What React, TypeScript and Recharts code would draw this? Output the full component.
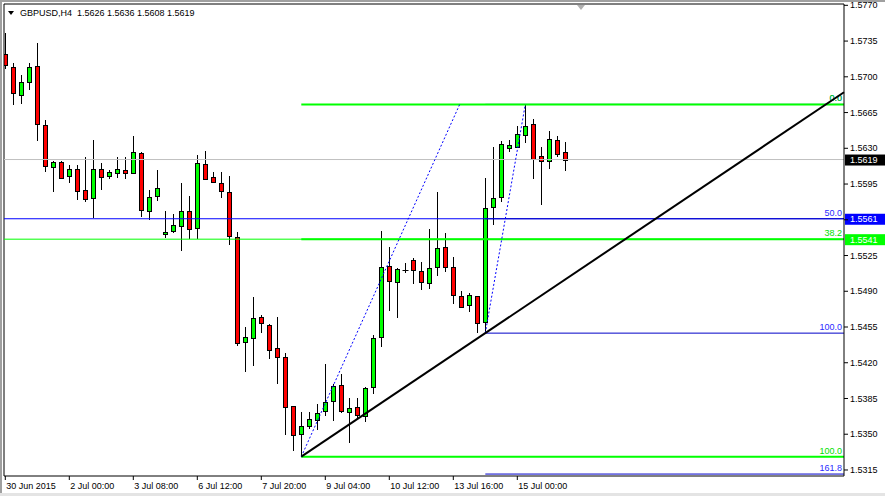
import {
  Bar,
  ComposedChart,
  ReferenceLine,
  XAxis,
  YAxis,
} from 'recharts'

// GBPUSD H4, one value per bar (bar 0 = leftmost visible bar)
const OPEN = [
  1.5722, 1.571, 1.5682, 1.5695, 1.5711, 1.5653, 1.5612, 1.5617, 1.5603, 1.561,
  1.5589, 1.5581, 1.561, 1.5603, 1.5606, 1.5609, 1.5606, 1.5625, 1.5569, 1.5583,
  1.5546, 1.5549, 1.5554, 1.5569, 1.5552, 1.5615, 1.5602, 1.5596, 1.5587, 1.5543,
  1.544, 1.5444, 1.5465, 1.5457, 1.5434, 1.5426, 1.5378, 1.535, 1.5358, 1.5364,
  1.5373, 1.5383, 1.5398, 1.5372, 1.5377, 1.5368, 1.5396, 1.5445, 1.5515, 1.5499,
  1.5511, 1.5521, 1.551, 1.5498, 1.5514, 1.5533, 1.5514, 1.5485, 1.5477, 1.5485,
  1.546, 1.5573, 1.5582, 1.563, 1.5631, 1.5643, 1.5654, 1.5622, 1.5618, 1.5638,
  1.5626,
]
const HIGH = [
  1.5743, 1.5714, 1.5702, 1.5714, 1.5733, 1.5658, 1.5618, 1.5618, 1.5614, 1.5614,
  1.5621, 1.5638, 1.5616, 1.5609, 1.5621, 1.5621, 1.5642, 1.5626, 1.5589, 1.5609,
  1.5569, 1.5566, 1.5596, 1.5583, 1.5623, 1.5627, 1.5607, 1.5607, 1.5603, 1.5548,
  1.5455, 1.5484, 1.5467, 1.5458, 1.5465, 1.543, 1.5378, 1.5372, 1.5372, 1.538,
  1.5419, 1.5399, 1.5409, 1.5385, 1.5385, 1.5396, 1.5447, 1.5549, 1.5533, 1.5513,
  1.5518, 1.5523, 1.5519, 1.5551, 1.5587, 1.5547, 1.5524, 1.549, 1.5488, 1.5485,
  1.5601, 1.5631, 1.5637, 1.5638, 1.5652, 1.5673, 1.5659, 1.5631, 1.5647, 1.5642,
  1.5636,
]
const LOW = [
  1.5708, 1.5672, 1.5673, 1.5687, 1.5637, 1.5607, 1.5587, 1.56, 1.5596, 1.5579,
  1.5577, 1.5562, 1.5589, 1.56, 1.5601, 1.56, 1.5605, 1.5563, 1.556, 1.5578,
  1.5542, 1.5547, 1.5529, 1.5541, 1.5541, 1.5599, 1.5597, 1.5581, 1.5535, 1.5436,
  1.5411, 1.5417, 1.5449, 1.5424, 1.5399, 1.5349, 1.5334, 1.5328, 1.5355, 1.5354,
  1.5368, 1.5363, 1.5371, 1.5341, 1.5365, 1.5362, 1.5389, 1.5435, 1.5471, 1.5464,
  1.5508, 1.5497, 1.5491, 1.5492, 1.5505, 1.5509, 1.5478, 1.5475, 1.547, 1.5449,
  1.5449, 1.5555, 1.5577, 1.5626, 1.563, 1.5635, 1.56, 1.5574, 1.561, 1.5621,
  1.5608,
]
const CLOSE = [
  1.5712, 1.5684, 1.5695, 1.571, 1.5654, 1.5613, 1.5617, 1.5601, 1.561, 1.5588,
  1.558, 1.561, 1.5602, 1.5607, 1.561, 1.5606, 1.5626, 1.557, 1.5582, 1.5591,
  1.5548, 1.5555, 1.5569, 1.5551, 1.5616, 1.56, 1.5597, 1.5588, 1.5544, 1.5439,
  1.5445, 1.5464, 1.5459, 1.5432, 1.5426, 1.5377, 1.5349, 1.5358, 1.5365, 1.5371,
  1.5382, 1.5397, 1.5373, 1.5376, 1.5369, 1.5395, 1.5444, 1.5514, 1.55, 1.5512,
  1.5511, 1.5511, 1.5499, 1.5513, 1.5532, 1.5514, 1.5486, 1.5475, 1.5486, 1.5459,
  1.5572, 1.5581, 1.5634, 1.5633, 1.5644, 1.5652, 1.562, 1.5618, 1.5639, 1.5624,
  1.5619,
]

const X_TICKS = [0, 8, 16, 24, 32, 40, 48, 56, 64]
const X_LABELS = [
  '30 Jun 2015', '2 Jul 00:00', '3 Jul 08:00', '6 Jul 12:00', '7 Jul 20:00',
  '9 Jul 04:00', '10 Jul 12:00', '13 Jul 16:00', '15 Jul 00:00',
]
const Y_TICKS = [
  1.577, 1.5735, 1.57, 1.5665, 1.563, 1.5595, 1.556, 1.5525, 1.549, 1.5455,
  1.542, 1.5385, 1.535, 1.5315,
]

const X_MIN = -0.1625
const X_MAX = 104.8375
const Y_MIN = 1.53091
const Y_MAX = 1.57713

const BID = 1.5619
const H_LINES = [
  { price: 1.5561, color: '#0000ff' },
  { price: 1.5541, color: '#00ff00' },
]

// fibo retracements: anchor bar, level text, price
const FIB_GREEN_FROM = 37
const FIB_GREEN = [
  { text: '0.0', price: 1.5673 },
  { text: '38.2', price: 1.5541 },
  { text: '100.0', price: 1.5328 },
]
const FIB_BLUE_FROM = 60
const FIB_BLUE = [
  { text: '0.0', price: 1.5673 },
  { text: '50.0', price: 1.5561 },
  { text: '100.0', price: 1.5449 },
  { text: '161.8', price: 1.5311 },
]
const DOTTED = [
  [{ x: 37, y: 1.5328 }, { x: 56.8, y: 1.5673 }],
  [{ x: 60, y: 1.5449 }, { x: 65, y: 1.5673 }],
]
const TREND = [{ x: 37, y: 1.5328 }, { x: 60, y: 1.5449 }]

const rows = OPEN.map((o, i) => ({
  i,
  o,
  h: HIGH[i],
  l: LOW[i],
  c: CLOSE[i],
  range: [LOW[i], HIGH[i]],
}))

const trendEnd =
  TREND[0].y + ((TREND[1].y - TREND[0].y) / (TREND[1].x - TREND[0].x)) * (X_MAX - TREND[0].x)

const FONT = '"Liberation Sans", Arial, sans-serif'

// price boxes on the axis cover the tick labels beneath them
const boxed = [BID, ...H_LINES.map((h) => h.price)]
const hiddenTick = (v: number) => boxed.some((p) => Math.abs(p - v) < 0.0006)

function Candle(props: any) {
  const { x, y, width, height, payload } = props
  if (x == null || y == null) return null
  const { o, h, l, c } = payload
  const px = (v: number) => y + ((h - v) / (h - l)) * height
  const cx = Math.round(x + width / 2) + 0.5
  const top = Math.round(px(Math.max(o, c)))
  const bot = Math.round(px(Math.min(o, c)))
  const wTop = Math.round(y)
  const wBot = Math.round(y + height)
  if (o === c) {
    return (
      <g>
        <line x1={cx} x2={cx} y1={wTop} y2={wBot} stroke="#000" />
        <line x1={cx - 3} x2={cx + 3} y1={top + 0.5} y2={top + 0.5} stroke="#000" />
      </g>
    )
  }
  return (
    <g>
      <line x1={cx} x2={cx} y1={wTop} y2={wBot} stroke="#000" />
      <rect
        x={cx - 2}
        y={top + 0.5}
        width={4}
        height={Math.max(bot - top, 1)}
        fill={c > o ? '#00ff00' : '#ff0000'}
        stroke="#000"
        strokeWidth={1}
      />
    </g>
  )
}

function XTick(props: any) {
  const { x, y, payload } = props
  const idx = X_TICKS.indexOf(payload.value)
  return (
    <text x={x + 1} y={y + 8} fontSize={9} fontFamily={FONT} fill="#000" textAnchor="start">
      {X_LABELS[idx]}
    </text>
  )
}

function YTick(props: any) {
  const { x, y, payload } = props
  if (hiddenTick(payload.value)) return null
  return (
    <text x={x} y={y} dy="0.35em" fontSize={9} fontFamily={FONT} fill="#000" textAnchor="start">
      {payload.value.toFixed(4)}
    </text>
  )
}

function priceBox(bg: string, value: number) {
  return (props: any) => {
    const { x, y, width } = props.viewBox
    const right = x + width
    return (
      <g>
        <rect x={right + 1} y={y - 5} width={40} height={11} fill={bg} />
        <text x={right + 6} y={y} dy="0.38em" fontSize={9} fontFamily={FONT} fill="#fff">
          {value.toFixed(4)}
        </text>
      </g>
    )
  }
}

function fibLabel(color: string, text: string) {
  return (props: any) => {
    const { x, y, width } = props.viewBox
    return (
      <text x={x + width - 2} y={y - 3} fontSize={9} fontFamily={FONT} fill={color} textAnchor="end">
        {text}
      </text>
    )
  }
}

export default function App() {
  return (
    <div
      style={{
        position: 'absolute',
        left: 0,
        top: 0,
        width: 885,
        height: 496,
        background: '#fff',
        overflow: 'hidden',
      }}
    >
      <div style={{ position: 'absolute', left: 0, top: 0, width: 885, height: 2, background: '#a0a0a0' }} />
      <div style={{ position: 'absolute', left: 0, top: 0, width: 2, height: 496, background: '#a0a0a0' }} />
      <div style={{ position: 'absolute', left: 0, top: 493, width: 885, height: 3, background: '#e4e4e4' }} />
      <ComposedChart
        width={885}
        height={496}
        data={rows}
        margin={{ top: 4, right: 0, bottom: 0, left: 4 }}
      >
        <XAxis
          dataKey="i"
          type="number"
          domain={[X_MIN, X_MAX]}
          allowDataOverflow
          ticks={X_TICKS}
          interval={0}
          height={20}
          tickSize={4}
          tickMargin={1}
          axisLine={{ stroke: '#000' }}
          tickLine={{ stroke: '#000' }}
          tick={<XTick />}
        />
        <YAxis
          orientation="right"
          type="number"
          domain={[Y_MIN, Y_MAX]}
          allowDataOverflow
          ticks={Y_TICKS}
          interval={0}
          width={41}
          tickSize={4}
          tickMargin={2}
          axisLine={{ stroke: '#000' }}
          tickLine={{ stroke: '#000' }}
          tick={<YTick />}
        />
        <ReferenceLine x={X_MIN} stroke="#000" />
        <ReferenceLine y={Y_MAX} stroke="#000" />
        <ReferenceLine y={BID} stroke="#c0c0c0" label={priceBox('#000', BID)} />
        <Bar dataKey="range" barSize={5} shape={<Candle />} isAnimationActive={false} />
        {H_LINES.map((h) => (
          <ReferenceLine
            key={h.price}
            y={h.price}
            stroke={h.color}
            label={priceBox(h.color, h.price)}
          />
        ))}
        {FIB_BLUE.map((f) => (
          <ReferenceLine
            key={'b' + f.text}
            segment={[{ x: FIB_BLUE_FROM, y: f.price }, { x: X_MAX, y: f.price }]}
            stroke="#0000c8"
            label={fibLabel('#2a2aff', f.text)}
          />
        ))}
        {FIB_GREEN.map((f) => (
          <ReferenceLine
            key={'g' + f.text}
            segment={[{ x: FIB_GREEN_FROM, y: f.price }, { x: X_MAX, y: f.price }]}
            stroke="#00ff00"
            strokeWidth={2}
            label={fibLabel('#00e000', f.text)}
          />
        ))}
        {DOTTED.map((seg, k) => (
          <ReferenceLine
            key={'d' + k}
            segment={seg}
            stroke="#0000ff"
            strokeDasharray="2 2"
          />
        ))}
        <ReferenceLine
          segment={[TREND[0], { x: X_MAX, y: trendEnd }]}
          stroke="#000"
          strokeWidth={2}
        />
      </ComposedChart>
      <div
        style={{
          position: 'absolute',
          left: 8,
          top: 11,
          width: 0,
          height: 0,
          borderLeft: '3.5px solid transparent',
          borderRight: '3.5px solid transparent',
          borderTop: '4px solid #000',
        }}
      />
      <div
        style={{
          position: 'absolute',
          left: 20,
          top: 8,
          fontSize: 9,
          lineHeight: '10px',
          fontFamily: FONT,
          color: '#000',
          whiteSpace: 'pre',
        }}
      >
        {'GBPUSD,H4  1.5626 1.5636 1.5608 1.5619'}
      </div>
      <div
        style={{
          position: 'absolute',
          left: 577,
          top: 5,
          width: 0,
          height: 0,
          borderLeft: '4.5px solid transparent',
          borderRight: '4.5px solid transparent',
          borderTop: '5px solid #b0b0b0',
        }}
      />
    </div>
  )
}
